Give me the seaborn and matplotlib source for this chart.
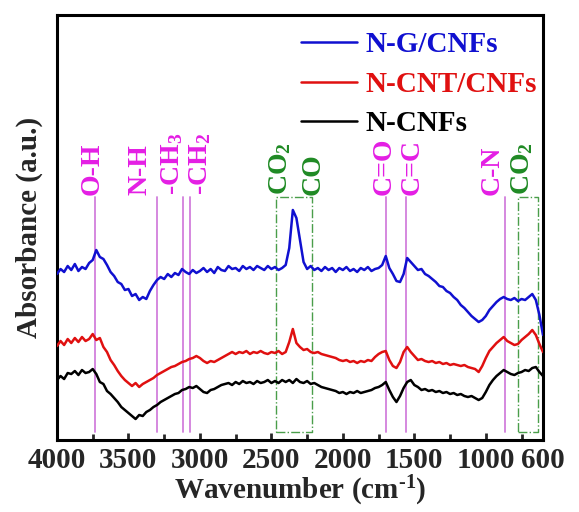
import numpy as np
import pandas as pd
import matplotlib
matplotlib.use("Agg")
import matplotlib.pyplot as plt
import seaborn as sns

# Wavenumber grid (cm^-1), 4000 -> 600 in 25 cm^-1 steps
wavenumber = list(range(4000, 599, -25))

# Offset absorbance traces (a.u.)
n_g_cnfs = [
    166, 171, 168, 174, 170, 176, 169, 173, 171, 177, 180, 190, 183, 181, 175, 168,
    164, 158, 156, 150, 151, 144, 146, 140, 143, 141, 149, 155, 160, 163, 161, 166,
    163, 167, 165, 171, 168, 166, 170, 167, 169, 172, 168, 171, 167, 173, 170, 169,
    174, 171, 172, 169, 174, 171, 173, 170, 174, 172, 170, 174, 171, 173, 170, 172,
    175, 192, 230, 222, 200, 178, 171, 174, 170, 172, 169, 173, 170, 172, 168, 172,
    170, 173, 169, 171, 168, 172, 170, 173, 169, 171, 172, 175, 184, 172, 166, 159,
    158, 166, 182, 178, 174, 170, 171, 166, 164, 161, 158, 154, 153, 149, 147, 143,
    140, 135, 132, 128, 124, 121, 118, 120, 124, 130, 134, 138, 141, 143, 141, 140,
    142, 139, 141, 140, 143, 146, 140, 125, 105,
]
n_cnt_cnfs = [
    94, 99, 95, 101, 97, 102, 98, 103, 99, 101, 106, 100, 102, 93, 88, 80,
    75, 69, 64, 60, 57, 54, 57, 53, 56, 58, 60, 62, 65, 67, 69, 71,
    73, 74, 76, 78, 79, 81, 82, 84, 82, 79, 77, 79, 78, 80, 82, 84,
    86, 88, 86, 88, 87, 89, 86, 88, 87, 89, 87, 86, 88, 87, 89, 86,
    88, 98, 111, 97, 93, 90, 91, 88, 87, 88, 86, 85, 84, 83, 82, 80,
    79, 80, 78, 79, 77, 79, 78, 80, 79, 83, 86, 88, 89, 80, 74, 72,
    78, 88, 93, 88, 84, 80, 81, 79, 78, 79, 77, 78, 76, 77, 75, 76,
    75, 74, 75, 73, 72, 71, 68, 74, 82, 89, 93, 97, 100, 103, 99, 97,
    95, 96, 100, 103, 106, 110, 105, 96, 88,
]
n_cnfs = [
    60, 64, 61, 67, 66, 69, 65, 70, 67, 68, 71, 66, 58, 56, 49, 46,
    42, 38, 33, 30, 27, 24, 21, 25, 24, 28, 30, 33, 35, 38, 40, 42,
    44, 46, 47, 50, 51, 53, 52, 54, 51, 48, 47, 50, 51, 53, 55, 56,
    57, 55, 58, 56, 59, 57, 58, 56, 59, 57, 58, 60, 57, 59, 57, 60,
    58, 60, 57, 61, 58, 57, 59, 56, 57, 55, 53, 52, 51, 50, 49, 47,
    48, 46, 48, 47, 49, 47, 48, 49, 50, 52, 53, 55, 58, 50, 43, 38,
    44, 52, 58, 60, 55, 53, 50, 51, 49, 50, 48, 49, 47, 48, 46, 47,
    45, 46, 44, 43, 44, 42, 40, 42, 48, 55, 60, 64, 67, 70, 68, 66,
    65, 67, 68, 70, 69, 72, 73, 68, 64,
]

series_names = ["N-G/CNFs", "N-CNT/CNFs", "N-CNFs"]
series_colors = ["#1010d0", "#e01010", "#000000"]

# Band assignments: line position, label position, label text, colour group
band_lines = [3734, 3303, 3119, 3070, 1698, 1558, 866]
band_label_x = [3755, 3419, 3195, 3000, 2440, 2209, 1712, 1516, 957, 747]
band_labels = ["O-H", "N-H", r"-CH$_3$", r"-CH$_2$", r"CO$_2$", "CO",
               "C=O", "C=C", "C-N", r"CO$_2$"]
band_groups = ["bond", "bond", "bond", "bond", "gas", "gas",
               "bond", "bond", "bond", "gas"]
# Gas-phase regions (cm^-1)
gas_regions = [(2470, 2214), (775, 635)]

xticks_major = [4000, 3500, 3000, 2500, 2000, 1500, 1000, 600]

df = pd.DataFrame({
    "Wavenumber": wavenumber * 3,
    "Absorbance": n_g_cnfs + n_cnt_cnfs + n_cnfs,
    "Sample": [s for s in series_names for _ in wavenumber],
})

sns.set_theme(style="white")
plt.rcParams["font.family"] = ["Liberation Serif", "DejaVu Serif"]
plt.rcParams["font.weight"] = "bold"
plt.rcParams["mathtext.fontset"] = "custom"
plt.rcParams["mathtext.rm"] = "Liberation Serif:bold"
plt.rcParams["mathtext.it"] = "Liberation Serif:bold"
plt.rcParams["mathtext.bf"] = "Liberation Serif:bold"
plt.rcParams["mathtext.default"] = "rm"

fig = plt.figure(figsize=(5.79, 5.12), dpi=100)
ax = fig.add_axes([0.0984, 0.1406, 0.8394, 0.8301])

bond_line_color = "#d27fdc"
bond_text_color = "#e41ee4"
gas_color = "#1f8a24"
box_color = "#4a9e4a"

ymin, ymax = 0, 425
line_lo, line_hi = 8, 243

for x in band_lines:
    ax.plot([x, x], [line_lo, line_hi], color=bond_line_color, lw=1.3, zorder=1)

for lo, hi in gas_regions:
    ax.plot([lo, hi, hi, lo, lo], [line_lo, line_lo, line_hi, line_hi, line_lo],
            color=box_color, lw=1.0, ls="-.", zorder=1)

for x, txt, grp in zip(band_label_x, band_labels, band_groups):
    ax.text(x, line_hi + 2, txt, rotation=90, ha="center", va="bottom",
            fontsize=20, fontweight="bold",
            color=bond_text_color if grp == "bond" else gas_color)

sns.lineplot(data=df, x="Wavenumber", y="Absorbance", hue="Sample",
             hue_order=series_names, palette=series_colors, estimator=None,
             lw=1.8, ax=ax, zorder=3)

ax.set_xlim(4000, 600)
ax.set_ylim(ymin, ymax)
ax.set_xticks(xticks_major)
ax.set_xticks(list(range(3750, 600, -500)), minor=True)
ax.set_yticks([])
ax.tick_params(axis="x", which="both", direction="in", width=2, length=5,
               labelsize=21, pad=5, bottom=True, top=False)
ax.tick_params(axis="x", which="minor", length=4)
for lbl in ax.get_xticklabels():
    lbl.set_fontweight("bold")
for sp in ax.spines.values():
    sp.set_linewidth(2.2)
    sp.set_color("black")

ax.set_xlabel(r"Wavenumber (cm$^{\text{-1}}$)", fontsize=21, fontweight="bold",
              labelpad=0)
ax.set_ylabel("Absorbance (a.u.)", fontsize=21, fontweight="bold", labelpad=10)

leg = ax.legend(loc="upper right", bbox_to_anchor=(1.0, 0.975), frameon=False,
                fontsize=21, handlelength=1.9, handletextpad=0.3,
                labelspacing=0.42, borderaxespad=0.0, borderpad=0.2,
                labelcolor="linecolor")
for t in leg.get_texts():
    t.set_fontweight("bold")

fig.savefig("out.png", dpi=100)
